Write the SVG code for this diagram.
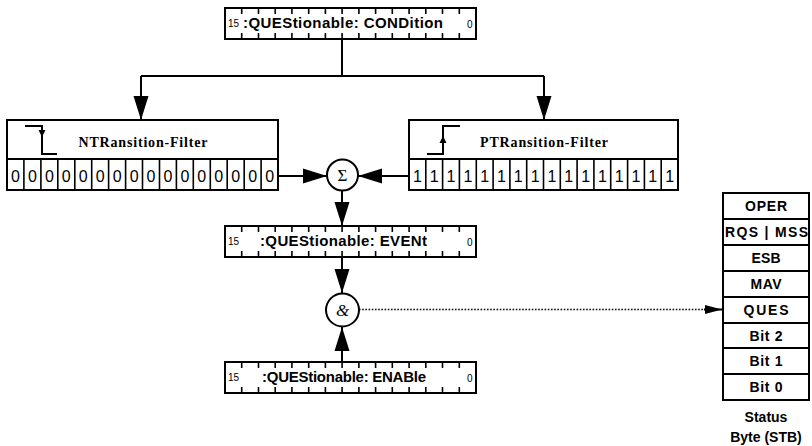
<svg xmlns="http://www.w3.org/2000/svg" xmlns:xlink="http://www.w3.org/1999/xlink" width="812" height="446" viewBox="0 0 812 446">
<style>
.box{fill:#fff;stroke:#000;stroke-width:2}
.thin{fill:none;stroke:#000;stroke-width:1.6}
.line{fill:none;stroke:#000;stroke-width:2}
.dot{fill:none;stroke:#000;stroke-width:1.6;stroke-dasharray:1.6 1.6}
.reg{font-family:"Liberation Sans",Arial,sans-serif;font-weight:bold;font-size:15px;text-anchor:middle}
.num{font-family:"Liberation Sans",Arial,sans-serif;font-size:10px}
.hdr{font-family:"Liberation Serif","Times New Roman",serif;font-weight:bold;font-size:14px;text-anchor:middle}
.bit{font-family:"Liberation Sans",Arial,sans-serif;font-size:16px;text-anchor:middle}
.stb{font-family:"Liberation Sans",Arial,sans-serif;font-weight:bold;font-size:14px;text-anchor:middle}
.sym{font-family:"Liberation Serif","Times New Roman",serif;font-size:17px;text-anchor:middle}
</style>
<defs>
<marker id="ah" viewBox="0 0 24 16" markerWidth="24" markerHeight="16" refX="24" refY="8" orient="auto" markerUnits="userSpaceOnUse"><path d="M0,0.5 L24,8 L0,15.5 z" fill="#000"/></marker>
<marker id="ahs" viewBox="0 0 17 10" markerWidth="17" markerHeight="10" refX="17" refY="5" orient="auto" markerUnits="userSpaceOnUse"><path d="M0,0.5 L17,5 L0,9.5 z" fill="#000"/></marker>
<path id="ticks" d="M16.7,0v6M33.5,0v6M50.2,0v6M66.9,0v6M83.7,0v6M100.4,0v6M117.1,0v6M133.9,0v6M150.6,0v6M167.3,0v6M184.1,0v6M200.8,0v6M217.5,0v6M234.3,0v6M16.7,31v-6M33.5,31v-6M50.2,31v-6M66.9,31v-6M83.7,31v-6M100.4,31v-6M117.1,31v-6M133.9,31v-6M150.6,31v-6M167.3,31v-6M184.1,31v-6M200.8,31v-6M217.5,31v-6M234.3,31v-6" fill="none" stroke="#000" stroke-width="1.6"/>
</defs>
<rect width="812" height="446" fill="#fff"/>

<g id="connectors">
<path class="line" d="M342,39 V76 M141,76 H544"/>
<path class="line" d="M141,76 V120" marker-end="url(#ah)"/>
<path class="line" d="M544,76 V120" marker-end="url(#ah)"/>
<path class="line" d="M278,176 H327" marker-end="url(#ah)"/>
<path class="line" d="M409,176 H358" marker-end="url(#ah)"/>
<path class="line" d="M342,190 V226" marker-end="url(#ah)"/>
<path class="line" d="M342,257 V293" marker-end="url(#ah)"/>
<path class="line" d="M342,362 V327" marker-end="url(#ah)"/>
<path class="dot" d="M359,309.5 H705"/>
<path class="line" d="M704,309.5 H722" marker-end="url(#ahs)" stroke-width="1"/>
</g>

<g id="condition">
<rect class="box" x="225" y="8" width="251" height="31"/>
<use xlink:href="#ticks" x="225" y="8"/>
<text class="num" x="228" y="27">15</text>
<text class="num" x="467" y="28">0</text>
<text class="reg" x="343" y="28" textLength="200" lengthAdjust="spacing">:QUEStionable: CONDition</text>
</g>

<g id="ntr-filter">
<rect class="box" x="7" y="120" width="271" height="70"/>
<path class="line" d="M7,159 H278"/>
<path class="thin" d="M23.9,159V190M40.9,159V190M57.8,159V190M74.8,159V190M91.7,159V190M108.6,159V190M125.6,159V190M142.5,159V190M159.5,159V190M176.4,159V190M193.3,159V190M210.3,159V190M227.2,159V190M244.2,159V190M261.1,159V190"/>
<text class="bit" x="15.5 32.4 49.4 66.3 83.2 100.2 117.1 134.1 151 167.9 184.9 201.8 218.8 235.7 252.7 269.6" y="182">0000000000000000</text>
<path class="line" d="M25,126 H42 V154 H57"/>
<polygon points="38.5,130 45.5,130 42,137" fill="#000"/>
<text class="hdr" x="143" y="147" textLength="129" lengthAdjust="spacing">NTRansition-Filter</text>
</g>

<g id="ptr-filter">
<rect class="box" x="409" y="120" width="269" height="70"/>
<path class="line" d="M409,159 H678"/>
<path class="thin" d="M425.8,159V190M442.6,159V190M459.4,159V190M476.3,159V190M493.1,159V190M509.9,159V190M526.7,159V190M543.5,159V190M560.3,159V190M577.1,159V190M593.9,159V190M610.7,159V190M627.6,159V190M644.4,159V190M661.2,159V190"/>
<text class="bit" x="417.4 434.2 451 467.9 484.7 501.5 518.3 535.1 551.9 568.7 585.6 602.4 619.2 636 652.8 669.6" y="182">1111111111111111</text>
<path class="line" d="M427,154 H443 V126 H460"/>
<polygon points="439.5,143 446.5,143 443,136" fill="#000"/>
<text class="hdr" x="544" y="147" textLength="128" lengthAdjust="spacing">PTRansition-Filter</text>
</g>

<g id="sum">
<circle class="box" cx="342.5" cy="175" r="15.5"/>
<text class="sym" x="342.5" y="181">Σ</text>
</g>

<g id="event">
<rect class="box" x="225" y="226" width="251" height="31"/>
<use xlink:href="#ticks" x="225" y="226"/>
<text class="num" x="228" y="245">15</text>
<text class="num" x="467" y="246">0</text>
<text class="reg" x="343.5" y="246" textLength="167" lengthAdjust="spacing">:QUEStionable: EVENt</text>
</g>

<g id="and">
<circle class="box" cx="342.5" cy="310" r="16.5"/>
<text class="sym" x="342.5" y="316" font-style="italic">&amp;</text>
</g>

<g id="enable">
<rect class="box" x="225" y="362" width="251" height="31"/>
<use xlink:href="#ticks" x="225" y="362"/>
<text class="num" x="228" y="381">15</text>
<text class="num" x="467" y="382">0</text>
<text class="reg" x="344" y="382" textLength="164" lengthAdjust="spacing">:QUEStionable: ENABle</text>
</g>

<g id="stb">
<rect class="box" x="723" y="193" width="86" height="207"/>
<path class="line" d="M723,219 H809 M723,245 H809 M723,271 H809 M723,297 H809 M723,323 H809 M723,348 H809 M723,374 H809"/>
<text class="stb" x="766" y="211" textLength="42" lengthAdjust="spacing">OPER</text>
<text class="stb" x="766.5" y="237" textLength="83" lengthAdjust="spacing">RQS | MSS</text>
<text class="stb" x="766" y="263" textLength="29" lengthAdjust="spacing">ESB</text>
<text class="stb" x="766" y="289" textLength="31" lengthAdjust="spacing">MAV</text>
<text class="stb" x="766" y="315" textLength="45" lengthAdjust="spacing">QUES</text>
<text class="stb" x="766" y="341" textLength="33" lengthAdjust="spacing">Bit 2</text>
<text class="stb" x="766" y="366" textLength="33" lengthAdjust="spacing">Bit 1</text>
<text class="stb" x="766" y="392" textLength="33" lengthAdjust="spacing">Bit 0</text>
<text class="stb" x="766" y="422">Status</text>
<text class="stb" x="766" y="442">Byte (STB)</text>
</g>
</svg>
